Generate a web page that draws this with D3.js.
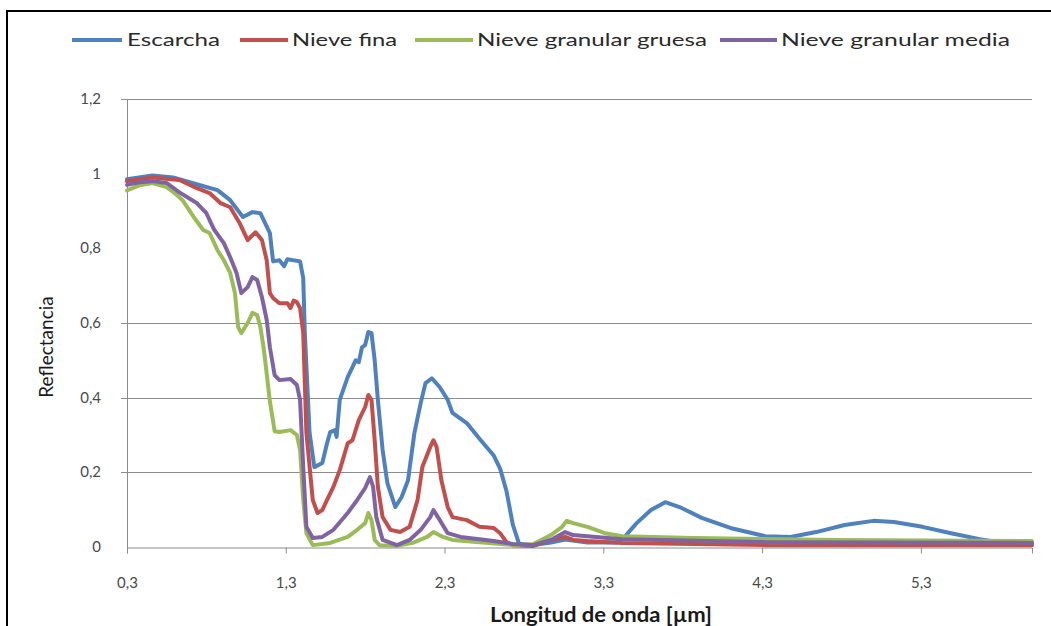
<!DOCTYPE html>
<html>
<head>
<meta charset="utf-8">
<script src="https://cdn.jsdelivr.net/npm/d3@7"></script>
<style>
  html, body { margin: 0; padding: 0; background: #fff; }
  svg { display: block; font-family: Lato, "Open Sans", sans-serif; }
</style>
</head>
<body>
<svg id="chart" width="1051" height="626"></svg>
<script>
// Spectral reflectance of snow types (wavelength in µm)
const seriesNames = ["Escarcha", "Nieve fina", "Nieve granular gruesa", "Nieve granular media"];
const seriesColors = ["#4F81BD", "#C0504D", "#9BBB59", "#8064A2"];

const escarchaWl = [0.30,0.46,0.59,0.76,0.87,0.95,1.03,1.09,1.14,1.20,1.22,1.26,1.29,1.31,1.39,1.41,1.42,1.45,1.48,1.53,1.56,1.58,1.61,1.62,1.64,1.69,1.72,1.74,1.76,1.78,1.80,1.82,1.84,1.86,1.88,1.91,1.94,1.99,2.03,2.07,2.11,2.15,2.18,2.22,2.27,2.32,2.35,2.44,2.52,2.61,2.65,2.69,2.73,2.77,2.86,2.97,3.06,3.20,3.38,3.44,3.51,3.60,3.69,3.78,3.92,4.10,4.32,4.48,4.64,4.82,5.00,5.13,5.31,5.49,5.67,5.79,6.00];
const escarchaR  = [0.985,0.995,0.99,0.969,0.956,0.929,0.884,0.897,0.894,0.841,0.765,0.768,0.752,0.771,0.765,0.72,0.573,0.305,0.214,0.225,0.278,0.308,0.313,0.295,0.394,0.455,0.482,0.50,0.495,0.535,0.541,0.576,0.573,0.50,0.394,0.26,0.171,0.107,0.134,0.179,0.305,0.386,0.439,0.452,0.428,0.394,0.359,0.332,0.29,0.245,0.21,0.15,0.06,0.008,0.005,0.012,0.02,0.012,0.012,0.03,0.064,0.099,0.12,0.107,0.078,0.051,0.029,0.027,0.04,0.059,0.07,0.067,0.054,0.037,0.021,0.013,0.011];

const finaWl = [0.30,0.46,0.63,0.74,0.82,0.89,0.95,1.01,1.06,1.09,1.11,1.15,1.18,1.20,1.22,1.26,1.31,1.33,1.35,1.37,1.39,1.41,1.43,1.47,1.50,1.53,1.56,1.60,1.64,1.69,1.72,1.76,1.80,1.82,1.84,1.86,1.88,1.91,1.96,2.02,2.08,2.13,2.16,2.21,2.23,2.25,2.28,2.32,2.35,2.44,2.52,2.61,2.65,2.69,2.73,2.86,2.97,3.06,3.11,3.20,3.42,4.32,6.00];
const finaR  = [0.98,0.99,0.983,0.961,0.948,0.921,0.91,0.867,0.822,0.835,0.843,0.822,0.768,0.68,0.667,0.653,0.653,0.64,0.66,0.656,0.64,0.573,0.305,0.126,0.091,0.099,0.126,0.161,0.206,0.278,0.286,0.34,0.375,0.407,0.394,0.286,0.161,0.08,0.046,0.04,0.054,0.126,0.214,0.268,0.286,0.268,0.179,0.107,0.08,0.072,0.054,0.051,0.037,0.013,0.005,0.003,0.019,0.027,0.019,0.016,0.011,0.005,0.005];

const gruesaWl = [0.30,0.38,0.46,0.55,0.60,0.65,0.72,0.78,0.82,0.87,0.91,0.95,0.98,1.00,1.02,1.06,1.09,1.12,1.14,1.16,1.17,1.20,1.23,1.26,1.33,1.37,1.39,1.41,1.43,1.47,1.58,1.69,1.75,1.80,1.82,1.84,1.86,1.89,2.00,2.10,2.19,2.23,2.29,2.35,2.52,2.75,2.86,2.97,3.04,3.07,3.11,3.20,3.31,3.42,3.87,4.77,6.00];
const gruesaR  = [0.955,0.969,0.975,0.964,0.948,0.929,0.884,0.849,0.841,0.795,0.768,0.734,0.68,0.589,0.573,0.60,0.627,0.621,0.589,0.535,0.50,0.39,0.31,0.308,0.313,0.30,0.26,0.126,0.037,0.005,0.011,0.027,0.046,0.064,0.091,0.072,0.019,0.005,0.003,0.011,0.027,0.04,0.027,0.019,0.013,0.005,0.008,0.032,0.054,0.07,0.064,0.054,0.037,0.029,0.024,0.019,0.016];

const mediaWl = [0.30,0.38,0.46,0.55,0.63,0.68,0.74,0.80,0.85,0.91,0.95,0.99,1.02,1.06,1.09,1.12,1.15,1.18,1.20,1.23,1.26,1.33,1.37,1.39,1.41,1.43,1.47,1.53,1.60,1.69,1.75,1.80,1.83,1.85,1.87,1.91,2.00,2.08,2.15,2.21,2.23,2.27,2.32,2.40,2.52,2.61,2.73,2.86,2.97,3.06,3.11,3.20,3.42,4.32,6.00];
const mediaR  = [0.97,0.977,0.98,0.975,0.95,0.937,0.921,0.894,0.849,0.814,0.776,0.734,0.68,0.696,0.723,0.715,0.669,0.608,0.535,0.46,0.447,0.45,0.434,0.394,0.214,0.054,0.024,0.027,0.046,0.091,0.126,0.158,0.187,0.161,0.08,0.019,0.005,0.019,0.046,0.08,0.099,0.072,0.037,0.027,0.021,0.016,0.008,0.005,0.019,0.04,0.032,0.029,0.021,0.013,0.011];

const xTicks = [0.3, 1.3, 2.3, 3.3, 4.3, 5.3];
const yTickLabels = [0, 0.2, 0.4, 0.6, 0.8, 1, 1.2];
const yGridValues = [0.2, 0.4, 0.6, 1.2];

const series = [
  { wl: escarchaWl, r: escarchaR },
  { wl: finaWl, r: finaR },
  { wl: gruesaWl, r: gruesaR },
  { wl: mediaWl, r: mediaR }
].map((s, i) => ({ name: seriesNames[i], color: seriesColors[i],
  points: s.wl.map((w, j) => [w, s.r[j]]) }));

const svg = d3.select("#chart");
const fmt = v => String(v).replace(".", ",");

// outer frame
svg.append("path")
  .attr("d", "M7,626 L7,11 L1051,11")
  .attr("fill", "none").attr("stroke", "#000").attr("stroke-width", 2);

const x = d3.scaleLinear().domain([0.3, 6.0]).range([127, 1032]);
const y = d3.scaleLinear().domain([0, 1.2]).range([547, 99]);

// horizontal gridlines
svg.append("g").selectAll("line").data(yGridValues).join("line")
  .attr("x1", x(0.3) - 6).attr("x2", x(6.0))
  .attr("y1", d => Math.round(y(d)) + 0.5).attr("y2", d => Math.round(y(d)) + 0.5)
  .attr("stroke", "#8c8c8c").attr("stroke-width", 1);

// y axis labels
svg.append("g").selectAll("text").data(yTickLabels).join("text")
  .attr("x", 101).attr("y", d => y(d) + 5)
  .attr("text-anchor", "end")
  .attr("font-size", 15).attr("fill", "#4a4a4a")
  .text(fmt);

// y axis line
svg.append("line")
  .attr("x1", 127.5).attr("x2", 127.5).attr("y1", y(1.2)).attr("y2", 553)
  .attr("stroke", "#8c8c8c");

// x axis
const xAxis = d3.axisBottom(x).tickValues(xTicks).tickSize(6).tickFormat(fmt);
const gx = svg.append("g").attr("transform", `translate(0,${y(0) + 0.5})`).call(xAxis);
gx.select(".domain").attr("stroke", "#8c8c8c");
gx.selectAll(".tick line").attr("stroke", "#8c8c8c");
gx.selectAll(".tick text")
  .attr("y", 30).attr("font-size", 15).attr("fill", "#4a4a4a")
  .attr("font-family", "Lato, sans-serif");

// series lines
const line = d3.line().x(d => x(d[0])).y(d => y(d[1]));
svg.append("g").selectAll("path").data(series).join("path")
  .attr("d", d => line(d.points))
  .attr("fill", "none")
  .attr("stroke", d => d.color)
  .attr("stroke-width", 4)
  .attr("stroke-linejoin", "round")
  .attr("stroke-linecap", "round");

// legend
const legendItems = [
  { lx: 72, lw: 50, tx: 127, tw: 93 },
  { lx: 240, lw: 48, tx: 292, tw: 105 },
  { lx: 415, lw: 58, tx: 477, tw: 230 },
  { lx: 720, lw: 57, tx: 781, tw: 229 }
];
const lg = svg.append("g").selectAll("g").data(series).join("g");
lg.append("line")
  .attr("x1", (d, i) => legendItems[i].lx)
  .attr("x2", (d, i) => legendItems[i].lx + legendItems[i].lw)
  .attr("y1", 40).attr("y2", 40)
  .attr("stroke", d => d.color).attr("stroke-width", 4);
lg.append("text")
  .attr("x", (d, i) => legendItems[i].tx)
  .attr("y", 46)
  .attr("font-size", 17).attr("fill", "#2a2a2a")
  .attr("textLength", (d, i) => legendItems[i].tw)
  .attr("lengthAdjust", "spacingAndGlyphs")
  .text(d => d.name);

// axis titles
svg.append("text")
  .attr("transform", "translate(53,347) rotate(-90)")
  .attr("text-anchor", "middle")
  .attr("font-size", 19).attr("fill", "#1a1a1a")
  .text("Reflectancia");

svg.append("text")
  .attr("x", 601).attr("y", 622)
  .attr("text-anchor", "middle")
  .attr("font-size", 20).attr("font-weight", "bold").attr("fill", "#1a1a1a")
  .attr("textLength", 222).attr("lengthAdjust", "spacingAndGlyphs")
  .text("Longitud de onda [µm]");
</script>
</body>
</html>
